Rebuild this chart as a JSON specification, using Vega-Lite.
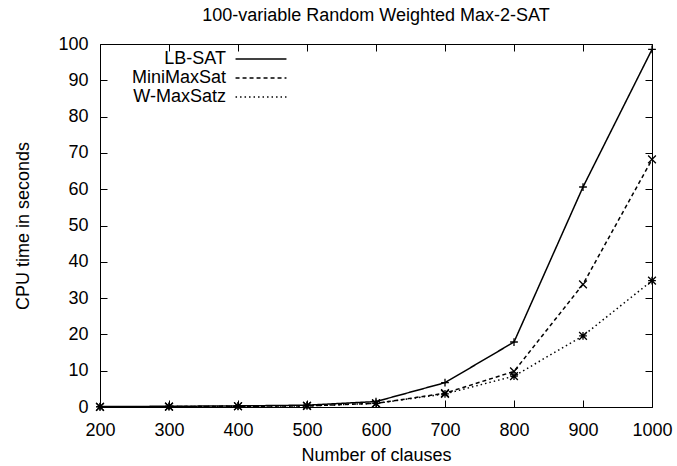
{
  "$schema": "https://vega.github.io/schema/vega-lite/v6.json",
  "autosize": "none",
  "width": 552,
  "height": 363,
  "padding": {"left": 100, "top": 44, "right": 25, "bottom": 59},
  "background": "white",
  "title": {"text": "100-variable Random Weighted Max-2-SAT", "fontSize": 18, "font": "Liberation Sans", "fontWeight": "normal", "offset": 10, "color": "black"},
  "config": {
    "font": "Liberation Sans",
    "view": {"stroke": "black", "strokeWidth": 1},
    "axis": {"grid": false, "domain": false, "labelFlush": false, "tickColor": "black", "tickSize": -7, "labelColor": "black", "labelFontSize": 18, "titleFontSize": 18, "titleFontWeight": "normal", "titleColor": "black", "labelFont": "Liberation Sans", "titleFont": "Liberation Sans"}
  },
  "data": {"values": [
    {"clauses": 200, "solver": "LB-SAT", "time": 0.1},
    {"clauses": 300, "solver": "LB-SAT", "time": 0.2},
    {"clauses": 400, "solver": "LB-SAT", "time": 0.3},
    {"clauses": 500, "solver": "LB-SAT", "time": 0.5},
    {"clauses": 600, "solver": "LB-SAT", "time": 1.5},
    {"clauses": 700, "solver": "LB-SAT", "time": 6.7},
    {"clauses": 800, "solver": "LB-SAT", "time": 17.9},
    {"clauses": 900, "solver": "LB-SAT", "time": 60.6},
    {"clauses": 1000, "solver": "LB-SAT", "time": 98.5},
    {"clauses": 200, "solver": "MiniMaxSat", "time": 0.05},
    {"clauses": 300, "solver": "MiniMaxSat", "time": 0.1},
    {"clauses": 400, "solver": "MiniMaxSat", "time": 0.2},
    {"clauses": 500, "solver": "MiniMaxSat", "time": 0.3},
    {"clauses": 600, "solver": "MiniMaxSat", "time": 1.0},
    {"clauses": 700, "solver": "MiniMaxSat", "time": 3.8},
    {"clauses": 800, "solver": "MiniMaxSat", "time": 9.8},
    {"clauses": 900, "solver": "MiniMaxSat", "time": 33.8},
    {"clauses": 1000, "solver": "MiniMaxSat", "time": 68.2},
    {"clauses": 200, "solver": "W-MaxSatz", "time": 0.05},
    {"clauses": 300, "solver": "W-MaxSatz", "time": 0.1},
    {"clauses": 400, "solver": "W-MaxSatz", "time": 0.2},
    {"clauses": 500, "solver": "W-MaxSatz", "time": 0.3},
    {"clauses": 600, "solver": "W-MaxSatz", "time": 1.0},
    {"clauses": 700, "solver": "W-MaxSatz", "time": 3.6},
    {"clauses": 800, "solver": "W-MaxSatz", "time": 8.5},
    {"clauses": 900, "solver": "W-MaxSatz", "time": 19.6},
    {"clauses": 1000, "solver": "W-MaxSatz", "time": 34.8}
  ]},
  "layer": [
    {
      "mark": {"type": "line", "color": "black", "strokeWidth": 1.5},
      "encoding": {
        "x": {"field": "clauses", "type": "quantitative", "scale": {"domain": [200, 1000], "nice": false}, "axis": {"values": [200,300,400,500,600,700,800,900,1000], "format": "d", "labelPadding": 21, "title": "Number of clauses", "titlePadding": 7}},
        "y": {"field": "time", "type": "quantitative", "scale": {"domain": [0, 100], "nice": false}, "axis": {"values": [0,10,20,30,40,50,60,70,80,90,100], "labelPadding": 19, "title": "CPU time in seconds", "titlePadding": 25}},
        "strokeDash": {"field": "solver", "type": "nominal", "scale": {"domain": ["LB-SAT", "MiniMaxSat", "W-MaxSatz"], "range": [[1, 0], [4, 3], [1.5, 3]]},
          "legend": {"title": null, "orient": "none", "legendX": 152, "legendY": 6, "symbolType": "M-6,0H6", "symbolSize": 72, "symbolStrokeWidth": 1.5, "symbolStrokeColor": "black", "symbolFillColor": "transparent", "labelAlign": "right", "labelOffset": -44, "labelFontSize": 18, "labelColor": "black", "labelFont": "Liberation Sans", "padding": 0, "rowPadding": 1}}
      }
    },
    {
      "transform": [{"filter": "datum.solver === 'LB-SAT'"}],
      "mark": {"type": "point", "filled": false, "color": "black", "strokeWidth": 1.3, "size": 60, "opacity": 1, "shape": "M-1,0H1M0,-1V1"},
      "encoding": {
        "x": {"field": "clauses", "type": "quantitative", "axis": null},
        "y": {"field": "time", "type": "quantitative", "axis": null}
      }
    },
    {
      "transform": [{"filter": "datum.solver === 'MiniMaxSat'"}],
      "mark": {"type": "point", "filled": false, "color": "black", "strokeWidth": 1.3, "size": 60, "opacity": 1, "shape": "M-1,-1L1,1M-1,1L1,-1"},
      "encoding": {
        "x": {"field": "clauses", "type": "quantitative", "axis": null},
        "y": {"field": "time", "type": "quantitative", "axis": null}
      }
    },
    {
      "transform": [{"filter": "datum.solver === 'W-MaxSatz'"}],
      "mark": {"type": "point", "filled": false, "color": "black", "strokeWidth": 1.3, "size": 60, "opacity": 1, "shape": "M-1,0H1M0,-1V1M-1,-1L1,1M-1,1L1,-1"},
      "encoding": {
        "x": {"field": "clauses", "type": "quantitative", "axis": null},
        "y": {"field": "time", "type": "quantitative", "axis": null}
      }
    },
    {
      "mark": {"type": "point", "opacity": 0},
      "encoding": {
        "x": {"field": "clauses", "type": "quantitative", "axis": {"orient": "top", "values": [200,300,400,500,600,700,800,900,1000], "labels": false, "title": null}},
        "y": {"field": "time", "type": "quantitative", "axis": {"orient": "right", "values": [0,10,20,30,40,50,60,70,80,90,100], "labels": false, "title": null}}
      }
    }
  ],
  "resolve": {"axis": {"x": "independent", "y": "independent"}}
}
